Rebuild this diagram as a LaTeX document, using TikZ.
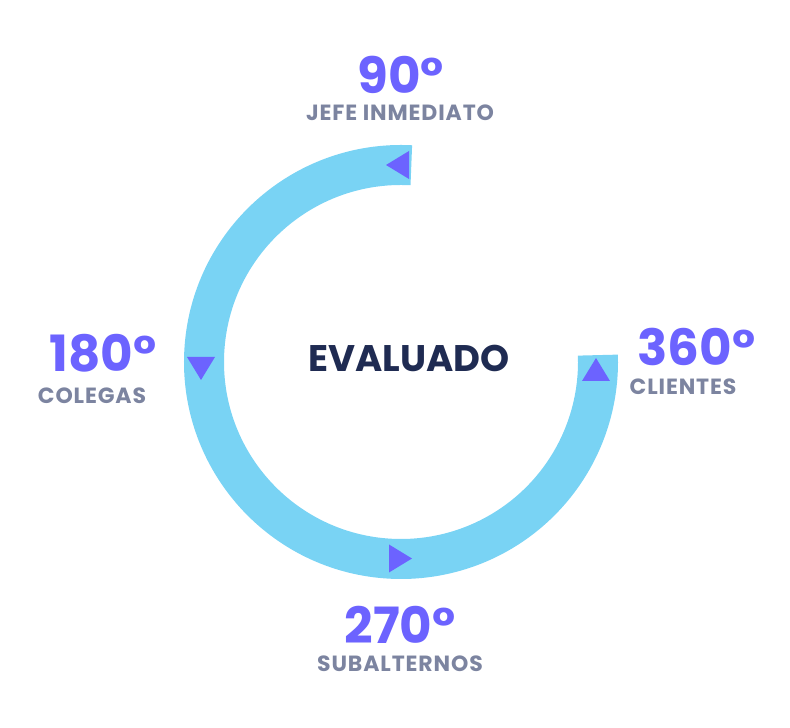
\documentclass[tikz,border=0pt]{standalone}
\usepackage{fontspec}
\setmainfont{Poppins}
\definecolor{anillo}{HTML}{79D3F4}
\definecolor{morado}{HTML}{6C63FF}
\definecolor{gris}{HTML}{7C84A0}
\definecolor{marino}{HTML}{1F2B52}
\begin{document}
\begin{tikzpicture}[line join=round,x=1pt,y=1pt,
  grado/.style={anchor=base,text=morado,font=\fontsize{50}{50}\selectfont\bfseries,inner sep=0pt},
  rol/.style={anchor=base,text=gris,font=\fontsize{22}{22}\selectfont\bfseries\addfontfeatures{LetterSpace=4},inner sep=0pt}]
\def \cx{401};
\def \cy{366};
\def \r{197};
\useasboundingbox (0,0) rectangle (790,728);
\draw[anillo,line width=40pt] ([shift={(87:\r)}]\cx,\cy) arc[start angle=87,end angle=362,radius=\r];
\foreach \x/\y/\g in {397.5/563/180,201/359.5/270,400.5/169.5/0,596/358.5/90}{\fill[morado,shift={(\x,\y)},rotate=\g] (11.5,0) -- (-11.5,14) -- (-11.5,-14) -- cycle;}
\node[anchor=base,text=marino,font=\fontsize{37}{37}\selectfont\bfseries,inner sep=0pt] (evaluado) at (409,356) {EVALUADO};
\node[grado] (g90) at (400.5,634) {90°};
\node[rol] (jefe) at (400,607) {JEFE INMEDIATO};
\node[grado] (g180) at (103,356) {180°};
\node[rol] (colegas) at (92,324) {COLEGAS};
\node[grado] (g270) at (400,84) {270°};
\node[rol] (subalternos) at (400,56) {SUBALTERNOS};
\node[grado] (g360) at (696.5,362) {360°};
\node[rol] (clientes) at (683,333) {CLIENTES};
\end{tikzpicture}
\end{document}
